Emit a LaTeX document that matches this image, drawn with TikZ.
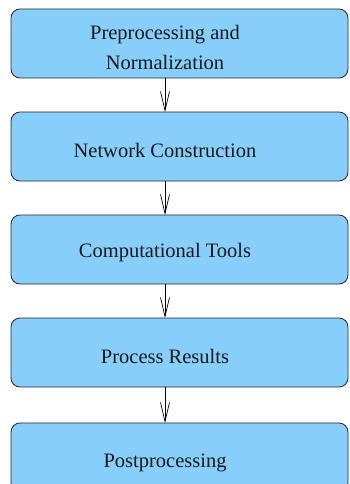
\documentclass[tikz,border=0pt]{standalone}
\usepackage{fontspec}
\setmainfont{Liberation Serif}
\usetikzlibrary{arrows.meta}
\definecolor{boxblue}{RGB}{135,206,250}
\tikzset{
  stagebox/.style={draw=black!85, line width=0.8pt, fill=boxblue, rounded corners=9pt,
    minimum width=337pt, minimum height=69pt, inner sep=0pt, outer sep=0pt},
  stagetext/.style={font=\fontsize{20.5}{30}\selectfont, align=center, inner sep=0pt, text=black!90},
  flow/.style={line width=0.7pt, -{Straight Barb[length=19pt, width=9pt, line width=0.7pt]}}
}
\begin{document}
\begin{tikzpicture}[x=1pt, y=-1pt]
\useasboundingbox (0,0) rectangle (349,484);
\clip (0,0) rectangle (349,484);
\node[stagebox] (b1) at (179.5,43.5) {};
\node[stagebox] (b2) at (179.5,146.5) {};
\node[stagebox] (b3) at (179.5,249.5) {};
\node[stagebox] (b4) at (179.5,352.5) {};
\node[stagebox] (b5) at (179.5,457.5) {};
\node[stagetext] (t1) at (165,47) {Preprocessing and\\Normalization};
\node[stagetext] (t2) at (165,150) {Network Construction};
\node[stagetext] (t3) at (165,253) {Computational Tools};
\node[stagetext] (t4) at (165,356) {Process Results};
\node[stagetext] (t5) at (165,463) {Postprocessing};
\draw[flow] (t1 |- b1.south) -- (t1 |- b2.north);
\draw[flow] (t2 |- b2.south) -- (t2 |- b3.north);
\draw[flow] (t3 |- b3.south) -- (t3 |- b4.north);
\draw[flow] (t4 |- b4.south) -- (t4 |- b5.north);
\end{tikzpicture}
\end{document}
